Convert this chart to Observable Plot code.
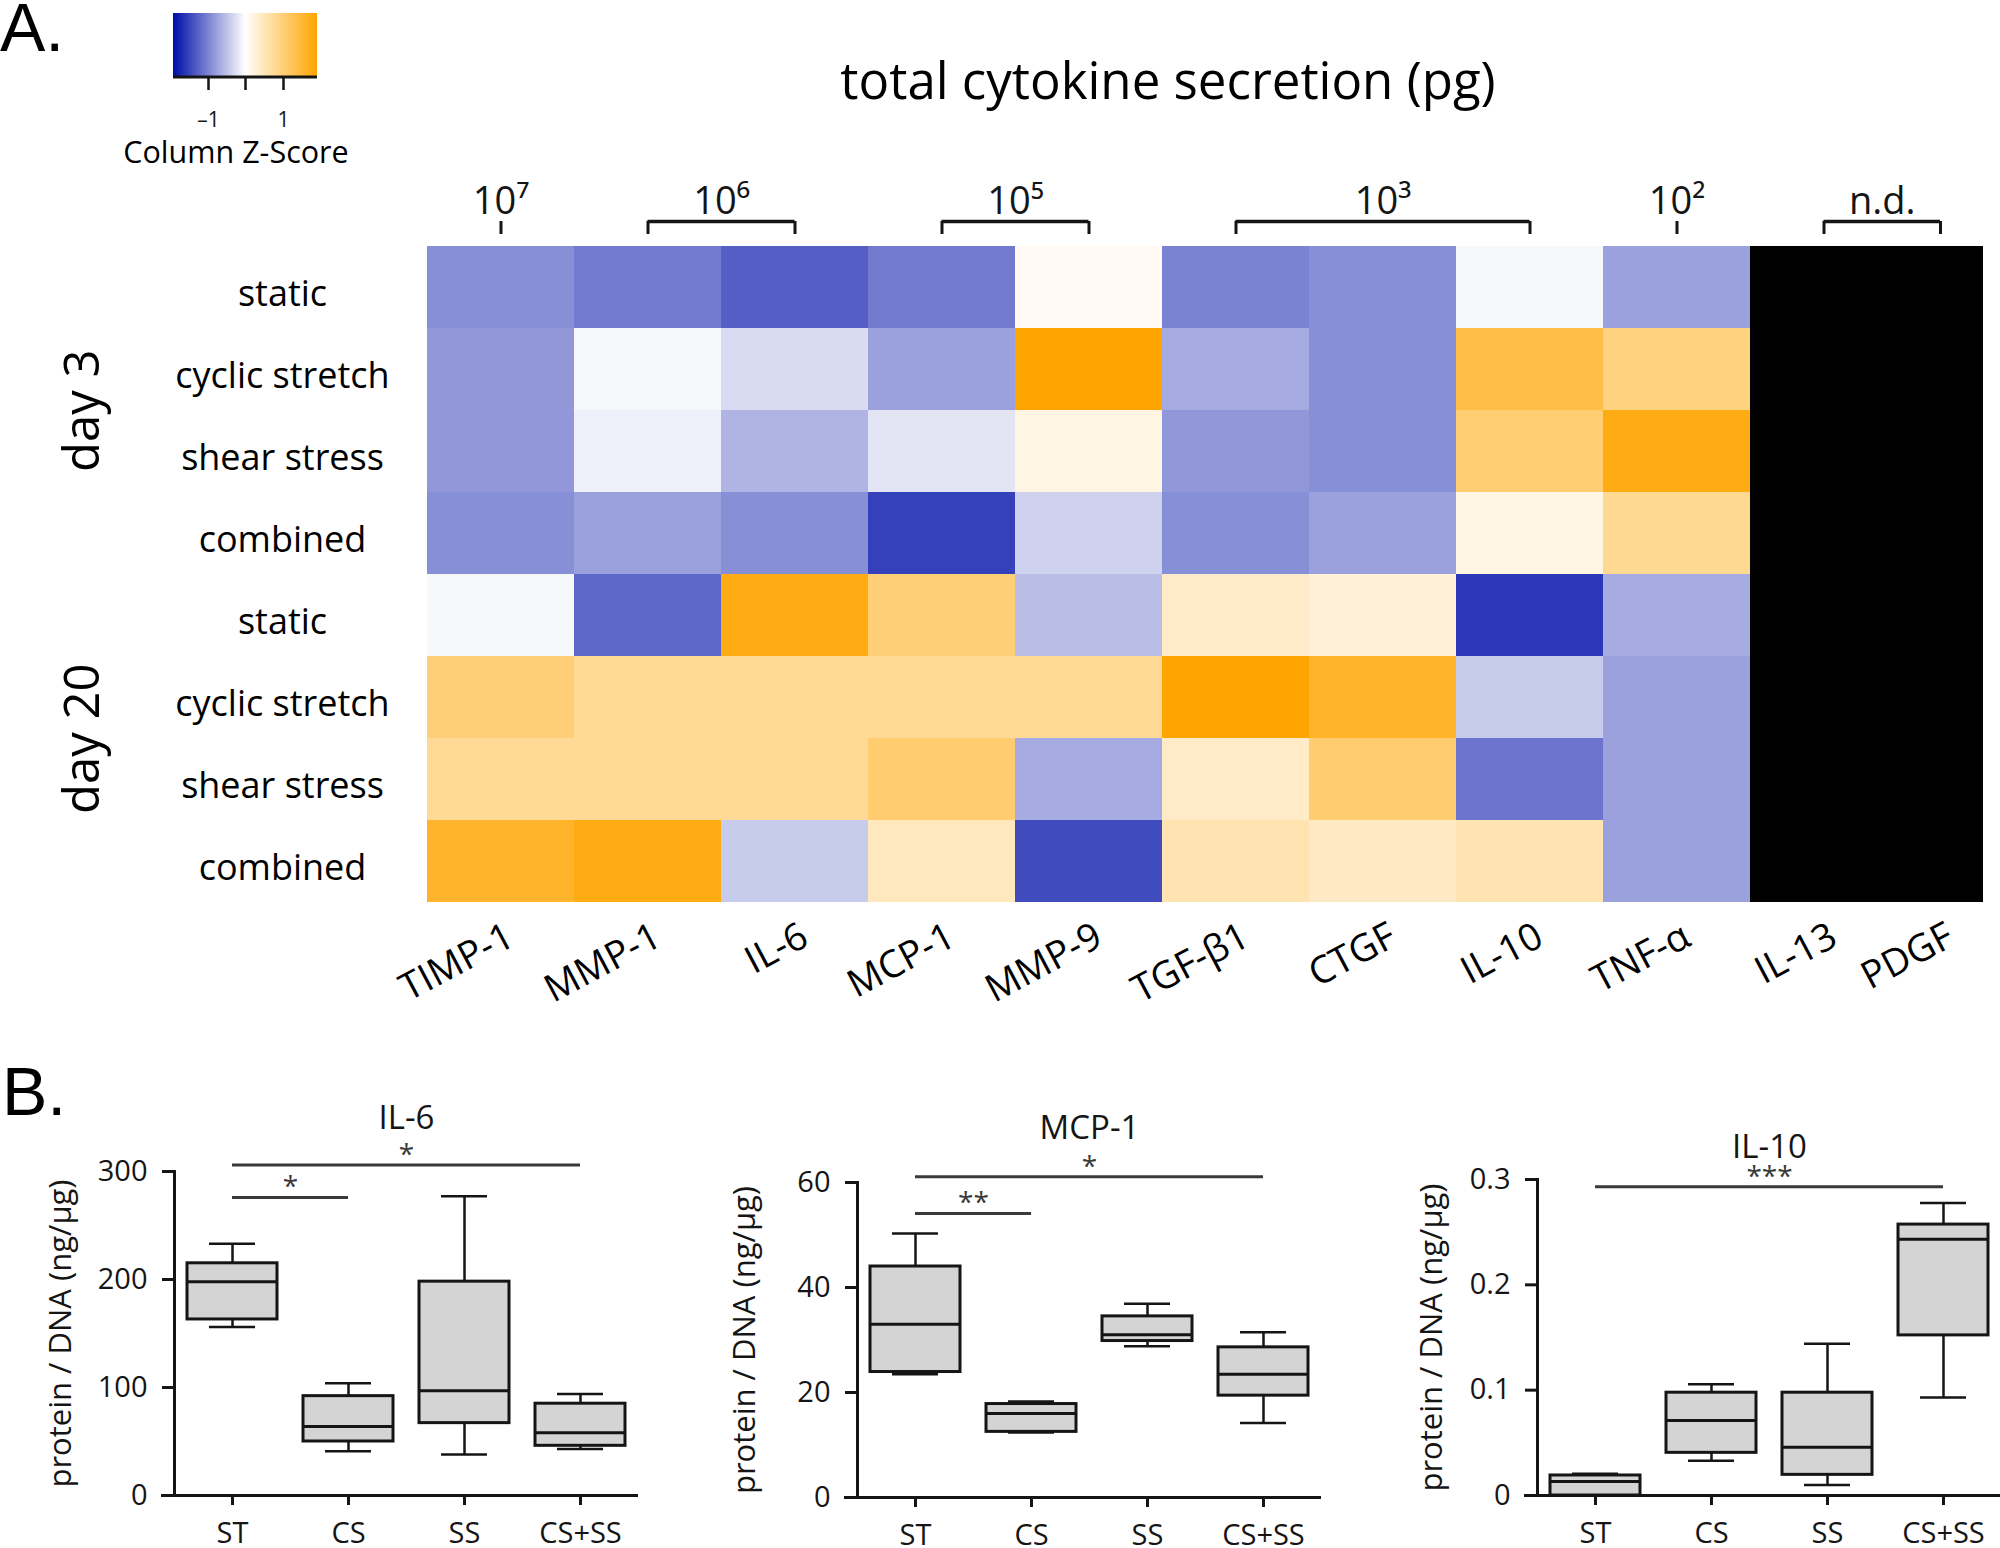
<!DOCTYPE html>
<html>
<head>
<meta charset="utf-8">
<script src="https://cdn.jsdelivr.net/npm/d3@7"></script>
<script src="https://cdn.jsdelivr.net/npm/@observablehq/plot@0.6"></script>
<style>
  body { margin: 0; background: #fff; }
  #root { position: relative; width: 2000px; height: 1548px; overflow: hidden; background: #fff; font-family: "Open Sans", sans-serif; color: #111; }
  .abs { position: absolute; white-space: nowrap; }
  .panel { font-family: "Liberation Sans", Arial, sans-serif; font-size: 68px; line-height: 50px; color: #000; }
  #root svg { position: absolute; }
</style>
</head>
<body>
<div id="root"></div>
<script>
// ---------------- DATA ----------------
// Panel A: heatmap of column z-scores
const cytokines = ["TIMP-1", "MMP-1", "IL-6", "MCP-1", "MMP-9", "TGF-β1", "CTGF", "IL-10", "TNF-α", "IL-13", "PDGF"];
const detected = ["TIMP-1", "MMP-1", "IL-6", "MCP-1", "MMP-9", "TGF-β1", "CTGF", "IL-10", "TNF-α"];
const notDetected = ["IL-13", "PDGF"];
const days = ["day 3", "day 20"];
const conditions = ["static", "cyclic stretch", "shear stress", "combined"];

const zD3Static    = [-0.90, -1.06, -1.29, -1.06,  0.08, -1.00, -0.90, -0.06, -0.75];
const zD3Cyclic    = [-0.83, -0.06, -0.29, -0.75,  1.95, -0.67, -0.90,  1.38,  0.96];
const zD3Shear     = [-0.83, -0.12, -0.60, -0.21,  0.21, -0.83, -0.90,  1.06,  1.77];
const zD3Combined  = [-0.90, -0.75, -0.90, -1.52, -0.36, -0.90, -0.75,  0.21,  0.83];
const zD20Static   = [-0.06, -1.21,  1.77,  1.02, -0.52,  0.42,  0.29, -1.60, -0.67];
const zD20Cyclic   = [ 1.02,  0.79,  0.79,  0.79,  0.79,  1.95,  1.59, -0.42, -0.75];
const zD20Shear    = [ 0.79,  0.79,  0.79,  1.08, -0.67,  0.42,  1.08, -1.11, -0.75];
const zD20Combined = [ 1.59,  1.77, -0.42,  0.50, -1.44,  0.58,  0.44,  0.58, -0.75];

// magnitude groups above the heatmap
const magnitudeLabels = ["10⁷", "10⁶", "10⁵", "10³", "10²", "n.d."];
const magnitudeFirst  = ["TIMP-1", "MMP-1", "MCP-1", "TGF-β1", "TNF-α", "IL-13"];
const magnitudeLast   = ["TIMP-1", "IL-6", "MMP-9", "IL-10", "TNF-α", "PDGF"];

const legendTicks = [-1, 0, 1];

// Panel B: box plots (min, Q1, median, Q3, max)
const groupsB = ["ST", "CS", "SS", "CS+SS"];
const il6Min = [156, 41, 38, 43];
const il6Q1  = [163, 50, 67, 46];
const il6Med = [198, 64, 97, 58];
const il6Q3  = [215, 92, 198, 85];
const il6Max = [233, 104, 277, 94];

const mcp1Min = [23.5, 12.4, 28.8, 14.2];
const mcp1Q1  = [23.9, 12.5, 29.8, 19.4];
const mcp1Med = [33.0, 16.0, 31.0, 23.5];
const mcp1Q3  = [44.0, 17.8, 34.5, 28.6];
const mcp1Max = [50.3, 18.3, 36.9, 31.5];

const il10Min = [0.000, 0.033, 0.010, 0.093];
const il10Q1  = [0.000, 0.0405, 0.0196, 0.152];
const il10Med = [0.0133, 0.0713, 0.0459, 0.2433];
const il10Q3  = [0.019, 0.0976, 0.0976, 0.2572];
const il10Max = [0.0206, 0.1055, 0.1441, 0.2778];

const il6Sig  = [{from: "ST", to: "CS", y: 276, label: "*"}, {from: "ST", to: "CS+SS", y: 306, label: "*"}];
const mcp1Sig = [{from: "ST", to: "CS", y: 54.1, label: "**"}, {from: "ST", to: "CS+SS", y: 61.1, label: "*"}];
const il10Sig = [{from: "ST", to: "CS+SS", y: 0.293, label: "***"}];

const yLabelB = "protein / DNA (ng/µg)";

// ---------------- LAYOUT ----------------
const root = document.getElementById("root");
const FONT = "Open Sans";
const INK = "#151515";

const HX0 = 427, BW = 147, HCLIP = 1983, HY0 = 245, HY1 = 903, HH = 1040;
const HX1 = HX0 + BW * cytokines.length;
const rowStep = (HY1 - HY0) / (days.length * conditions.length);
const lastShift = -(HX1 - HCLIP) / 2;

const colorScale = {
  type: "linear",
  domain: [-1.92, 0, 1.92],
  range: ["#000fa8", "#ffffff", "#ffa500"],
  interpolate: "rgb",
  clamp: true,
  label: null
};

function place(el, left, top) {
  el.style.left = left + "px";
  el.style.top = top + "px";
  root.appendChild(el);
}

// heatmap
const rowKeys = days.flatMap(d => conditions.map(c => d + "|" + c));
const zRows = [zD3Static, zD3Cyclic, zD3Shear, zD3Combined, zD20Static, zD20Cyclic, zD20Shear, zD20Combined];
const cells = rowKeys.flatMap((r, i) => detected.map((c, j) => ({row: r, cytokine: c, z: zRows[i][j]})));
const ndCells = rowKeys.flatMap(r => notDetected.map(c => ({row: r, cytokine: c})));

const colLabelOpts = {frameAnchor: "bottom", dy: 30, rotate: -28, fontSize: 38, textAnchor: "end", lineAnchor: "middle", fill: "#000"};
const heat = Plot.plot({
  width: 2000, height: HH,
  marginLeft: HX0, marginRight: 2000 - HCLIP, marginTop: HY0, marginBottom: HH - HY1,
  style: {fontFamily: FONT, background: "transparent", color: INK, overflow: "visible"},
  x: {type: "band", domain: cytokines, range: [HX0, HX1], padding: 0, axis: null},
  y: {type: "band", domain: rowKeys, padding: 0, axis: null},
  color: colorScale,
  marks: [
    Plot.cell(cells, {x: "cytokine", y: "row", fill: "z", clip: true}),
    Plot.cell(ndCells, {x: "cytokine", y: "row", fill: "black", clip: true}),
    Plot.text(rowKeys, {y: d => d, text: d => d.split("|")[1], frameAnchor: "left", dx: -145, dy: 7, fontSize: 36, textAnchor: "middle", fill: "#000"}),
    Plot.text(days, {y: d => d + "|" + conditions[1], text: d => d, frameAnchor: "left", dx: -344, dy: rowStep / 2, rotate: -90, fontSize: 49, textAnchor: "middle", fill: "#000"}),
    Plot.text(cytokines.slice(0, -1), {x: d => d, text: d => d, dx: 10, ...colLabelOpts}),
    Plot.text(cytokines.slice(-1), {x: d => d, text: d => d, dx: 10 + lastShift, ...colLabelOpts})
  ]
});
place(heat, 0, 0);

// magnitude brackets
const magGroups = magnitudeLabels.map((label, i) => ({label, first: magnitudeFirst[i], last: magnitudeLast[i]}));
const topMarks = magGroups.flatMap(g => {
  const a = cytokines.indexOf(g.first), b = cytokines.indexOf(g.last);
  const shiftB = b === cytokines.length - 1 ? lastShift : 0;
  const m = [
    Plot.ruleX([g], {x: "first", y1: 0, y2: 1, strokeWidth: 3, stroke: INK}),
    Plot.text([g], {x: "first", y: () => 1, text: "label", dx: (b - a) * BW / 2 + shiftB / 2, dy: -8, lineAnchor: "bottom", fontSize: 38, fill: INK})
  ];
  if (a !== b) {
    m.push(Plot.ruleY([g], {x1: "first", x2: "last", y: () => 1, insetLeft: BW / 2, insetRight: BW / 2 - shiftB, strokeWidth: 3.5, stroke: INK}));
    m.push(Plot.ruleX([g], {x: "last", y1: 0, y2: 1, dx: shiftB, strokeWidth: 3, stroke: INK}));
  }
  return m;
});
const topPlot = Plot.plot({
  width: 2000, height: HY0,
  marginLeft: HX0, marginRight: 2000 - HCLIP, marginTop: 0, marginBottom: 0,
  style: {fontFamily: FONT, background: "transparent", color: INK, overflow: "visible"},
  x: {type: "band", domain: cytokines, range: [HX0, HX1], padding: 0, axis: null},
  y: {domain: [0, 1], range: [234, 221], axis: null},
  marks: topMarks
});
place(topPlot, 0, 0);

// color legend
const leg = Plot.legend({
  color: colorScale,
  label: null,
  width: 164, height: 130,
  marginLeft: 10, marginRight: 10, marginTop: 10, marginBottom: 56,
  ticks: legendTicks, tickSize: 13,
  tickFormat: d => d === 0 ? "" : (d < 0 ? "–" + (-d) : String(d)),
  style: {fontFamily: FONT, fontSize: "21px", background: "transparent", overflow: "visible", color: INK}
});
{
  const s = d3.select(leg);
  s.selectAll(".tick line").attr("y1", 0).attr("y2", 13).attr("stroke-width", 2.5);
  s.selectAll(".tick text").attr("y", 35);
  s.append("line").attr("x1", 10).attr("x2", 154).attr("y1", 74).attr("y2", 74).attr("stroke", INK).attr("stroke-width", 3);
}
place(leg, 163, 3);

// HTML text
function addText(txt, cls, left, top, extra = "") {
  const d = document.createElement("div");
  d.className = "abs " + cls;
  d.textContent = txt;
  d.setAttribute("style", extra);
  place(d, left, top);
  return d;
}
addText("A.", "panel", 0, 2);
addText("B.", "panel", 2, 1066);
addText("total cytokine secretion (pg)", "", 1168, 54, "font-size:51px;line-height:51px;transform:translateX(-50%);color:#000;");
addText("Column Z-Score", "", 236, 136, "font-size:30.5px;line-height:30px;transform:translateX(-50%);color:#000;");

// box plot panels
const STEP = 116, BOXW = 90, PI = 1 - BOXW / STEP;
function boxPanel({title, mins, q1s, meds, q3s, maxs, sig, yMax, left, width, marginLeft, marginTop, marginBottom, titleDy, labelOffset}) {
  const stats = groupsB.map((g, i) => ({group: g, min: mins[i], q1: q1s[i], med: meds[i], q3: q3s[i], max: maxs[i]}));
  const p = Plot.plot({
    width, height: 508,
    marginLeft, marginRight: width - marginLeft - 4 * STEP, marginTop, marginBottom,
    style: {fontFamily: FONT, fontSize: "29px", strokeWidth: "3px", color: INK, background: "transparent", overflow: "visible"},
    x: {type: "band", domain: groupsB, paddingInner: PI, paddingOuter: PI / 2, tickSize: 10, tickPadding: 17, label: null},
    y: {domain: [0, yMax], ticks: 3, tickFormat: d3.format("~g"), tickSize: 12, tickPadding: 15, line: true, label: null},
    marks: [
      Plot.ruleX(stats, {x: "group", y1: "q3", y2: "max", strokeWidth: 2.5, stroke: INK}),
      Plot.ruleX(stats, {x: "group", y1: "min", y2: "q1", strokeWidth: 2.5, stroke: INK}),
      Plot.tickY(stats, {x: "group", y: "max", inset: 22, strokeWidth: 2.5, stroke: INK}),
      Plot.tickY(stats, {x: "group", y: "min", inset: 22, strokeWidth: 2.5, stroke: INK}),
      Plot.barY(stats, {x: "group", y1: "q1", y2: "q3", fill: "#d4d4d4", stroke: INK, strokeWidth: 3}),
      Plot.tickY(stats, {x: "group", y: "med", strokeWidth: 3, stroke: INK}),
      Plot.ruleY([0], {insetLeft: -13, strokeWidth: 3, stroke: INK}),
      Plot.ruleY(sig, {x1: "from", x2: "to", y: "y", insetLeft: BOXW / 2, insetRight: BOXW / 2, stroke: "#3a3a3a", strokeWidth: 3}),
      ...sig.map(s => Plot.text([s], {x: "from", y: "y", text: "label",
        dx: (groupsB.indexOf(s.to) - groupsB.indexOf(s.from)) * STEP / 2, dy: -1,
        lineAnchor: "bottom", fontSize: 28, fill: "#3a3a3a"})),
      Plot.text([yLabelB], {text: d => d, frameAnchor: "left", dx: -labelOffset, rotate: -90, lineAnchor: "top", textAnchor: "middle", fontSize: 31, fill: INK}),
      Plot.text([title], {text: d => d, frameAnchor: "top", dy: titleDy, lineAnchor: "bottom", fontSize: 33, fill: INK})
    ]
  });
  place(p, left, 1040);
}

boxPanel({title: "IL-6", mins: il6Min, q1s: il6Q1, meds: il6Med, q3s: il6Q3, maxs: il6Max, sig: il6Sig,
  yMax: 300, left: 0, width: 680, marginLeft: 174, marginTop: 131, marginBottom: 53, titleDy: -43, labelOffset: 126});
boxPanel({title: "MCP-1", mins: mcp1Min, q1s: mcp1Q1, meds: mcp1Med, q3s: mcp1Q3, maxs: mcp1Max, sig: mcp1Sig,
  yMax: 60, left: 680, width: 660, marginLeft: 177, marginTop: 142, marginBottom: 51, titleDy: -44, labelOffset: 125});
boxPanel({title: "IL-10", mins: il10Min, q1s: il10Q1, meds: il10Med, q3s: il10Q3, maxs: il10Max, sig: il10Sig,
  yMax: 0.3, left: 1340, width: 660, marginLeft: 197, marginTop: 139, marginBottom: 53, titleDy: -22, labelOffset: 118});
</script>
</body>
</html>
